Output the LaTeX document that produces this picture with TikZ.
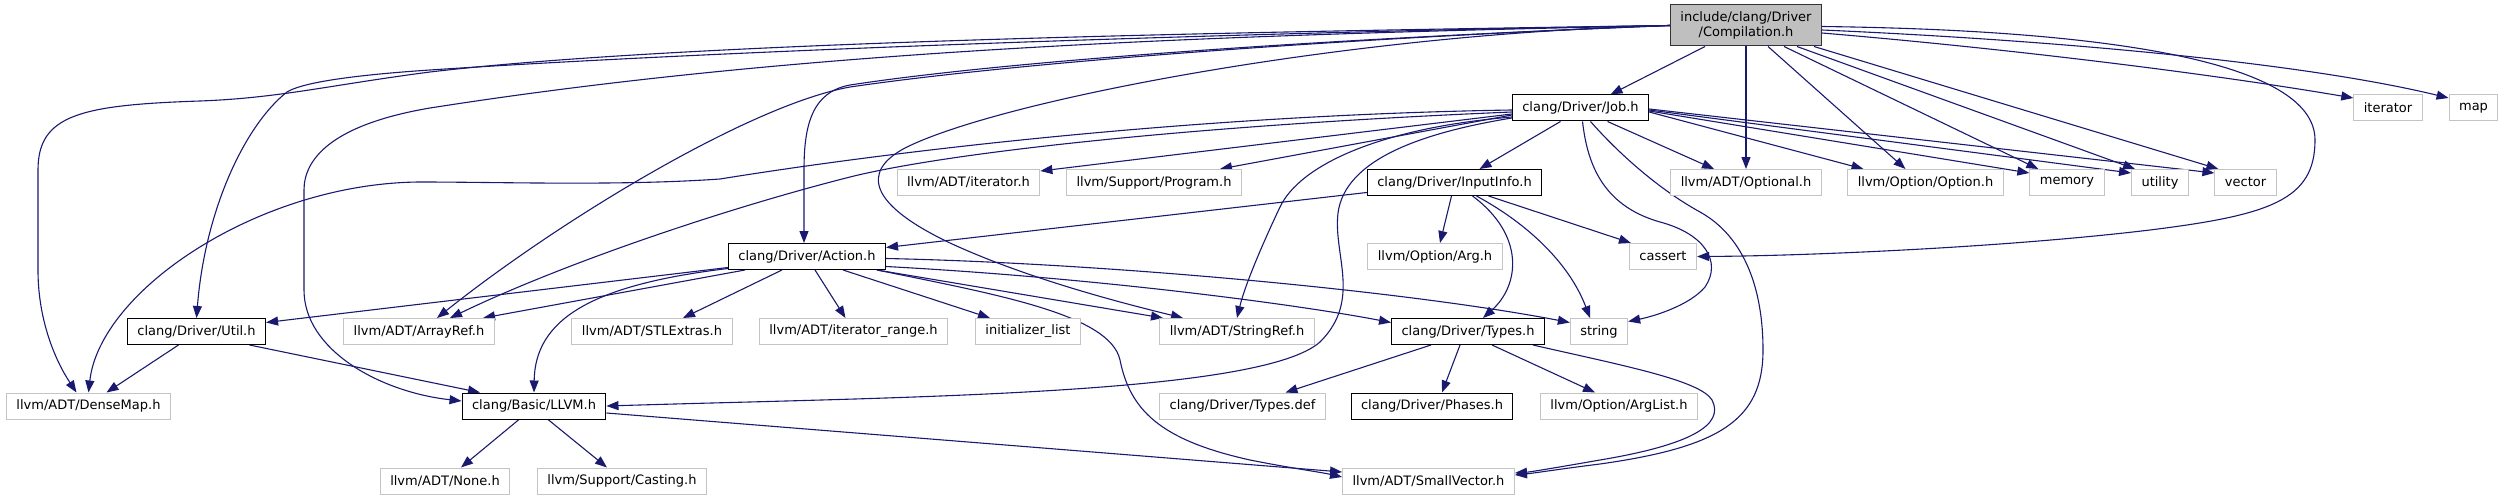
\documentclass[tikz,border=0pt]{standalone}
\usepackage{fontspec}
\setmainfont{DejaVu Sans}
\definecolor{edgeblue}{HTML}{191970}
\definecolor{rootgrey}{HTML}{BFBFBF}
\definecolor{extgrey}{HTML}{C4C4C4}
\usetikzlibrary{arrows.meta, backgrounds}

\begin{document}
\begin{tikzpicture}[
    x=1pt, y=-1pt,
    hfile/.style={rectangle, fill=white, line width=1pt,
                  inner xsep=10pt, inner ysep=0pt, minimum height=26pt,
                  font=\fontsize{13}{15}\selectfont},
    docfile/.style={hfile, draw=black},
    extfile/.style={hfile, draw=extgrey},
    rootfile/.style={hfile, draw=black!80, fill=rootgrey,
                     minimum height=41pt, align=center},
    arr/.style={-{Triangle[length=12pt, width=9pt]}, line width=1.1pt, edgeblue}
  ]
  \useasboundingbox (0,0) rectangle (2505,500);

  % rank 0 and 1
  \node[rootfile] (comp) at (1746,25.5) {include/clang/Driver\\/Compilation.h};
  \node[docfile] (job) at (1580.5,108) {clang/Driver/Job.h};
  \node[extfile] (iter) at (2388,108) {iterator};
  \node[extfile] (map) at (2473.5,108) {map};

  % rank 2
  \node[extfile] (iterh) at (968.5,182.5) {llvm/ADT/iterator.h};
  \node[extfile] (program) at (1154,182.5) {llvm/Support/Program.h};
  \node[docfile] (inputinfo) at (1454.5,182.5) {clang/Driver/InputInfo.h};
  \node[extfile] (optional) at (1746,182.5) {llvm/ADT/Optional.h};
  \node[extfile] (option) at (1925.5,182.5) {llvm/Option/Option.h};
  \node[extfile] (memory) at (2067,182.5) {memory};
  \node[extfile] (utility) at (2160,182.5) {utility};
  \node[extfile] (vector) at (2245.5,182.5) {vector};

  % rank 3
  \node[docfile] (action) at (807,256.5) {clang/Driver/Action.h};
  \node[extfile] (arg) at (1435,256.5) {llvm/Option/Arg.h};
  \node[extfile] (cassert) at (1663,256.5) {cassert};

  % rank 4
  \node[docfile] (util) at (196.5,331.5) {clang/Driver/Util.h};
  \node[extfile] (arrayref) at (419,331.5) {llvm/ADT/ArrayRef.h};
  \node[extfile] (stlextras) at (652,331.5) {llvm/ADT/STLExtras.h};
  \node[extfile] (iterrange) at (853.5,331.5) {llvm/ADT/iterator\_range.h};
  \node[extfile] (initlist) at (1028,331.5) {initializer\_list};
  \node[extfile] (stringref) at (1237,331.5) {llvm/ADT/StringRef.h};
  \node[docfile] (types) at (1468,331.5) {clang/Driver/Types.h};
  \node[extfile] (string) at (1599,331.5) {string};

  % rank 5 and 6
  \node[extfile] (densemap) at (88.5,406) {llvm/ADT/DenseMap.h};
  \node[docfile] (llvm) at (534,406) {clang/Basic/LLVM.h};
  \node[extfile] (typesdef) at (1242.5,406) {clang/Driver/Types.def};
  \node[docfile] (phases) at (1432,406) {clang/Driver/Phases.h};
  \node[extfile] (arglist) at (1619,406) {llvm/Option/ArgList.h};
  \node[extfile] (none) at (445,481) {llvm/ADT/None.h};
  \node[extfile] (casting) at (622,481) {llvm/Support/Casting.h};
  \node[extfile] (smallvec) at (1428.5,481) {llvm/ADT/SmallVector.h};

  \begin{scope}[on background layer]
  % Compilation.h
  \draw[arr] (comp.west) .. controls (1300,31) and (700,40) .. (430,72)
    .. controls (330,85) and (280,98) .. (200,101)
    .. controls (80,105) and (38,115) .. (38,170) -- (38,270)
    .. controls (38,320) and (55,360) .. ([xshift=-12pt]densemap.north);
  \draw[arr] (comp.west) .. controls (1200,33) and (700,52) .. (430,70)
    .. controls (340,76) and (300,84) .. (287,92)
    .. controls (245,125) and (205,210) .. (util.north);
  \draw[arr] (comp.west) .. controls (1200,35) and (800,50) .. (430,108)
    .. controls (330,125) and (304,160) .. (304,190) -- (304,290)
    .. controls (304,350) and (380,392) .. ([yshift=5pt]llvm.west);
  \draw[arr] (comp.west) .. controls (1300,40) and (1000,65) .. (850,87)
    .. controls (750,105) and (560,220) .. ([xshift=18pt]arrayref.north);
  \draw[arr] (comp.west) .. controls (1300,40) and (1000,62) .. (850,85)
    .. controls (812,92) and (804,125) .. (804,170) -- ([xshift=-3pt]action.north);
  \draw[arr] (comp.west) .. controls (1350,33) and (1000,100) .. (905,148)
    .. controls (860,172) and (870,205) .. (950,243)
    .. controls (1030,280) and (1130,305) .. ([xshift=-54pt]stringref.north);
  \draw[arr] ([xshift=-41pt]comp.south) -- ([xshift=30pt]job.north);
  \draw[arr] (comp.south) -- (optional.north);
  \draw[arr] ([xshift=22pt]comp.south) -- ([xshift=-20pt]option.north);
  \draw[arr] ([xshift=38pt]comp.south) -- ([xshift=9pt]memory.north west);
  \draw[arr] ([xshift=51pt]comp.south) -- ([xshift=4pt]utility.north west);
  \draw[arr] ([xshift=68pt]comp.south) -- ([xshift=4pt]vector.north west);
  \draw[arr] ([yshift=-7.5pt]comp.east) .. controls (2000,48) and (2200,72) .. ([yshift=10pt]iter.west);
  \draw[arr] ([yshift=-4.5pt]comp.east) .. controls (2050,40) and (2300,62) .. ([yshift=10pt]map.west);
  \draw[arr] ([yshift=-1pt]comp.east) .. controls (2100,30) and (2315,60) .. (2315,140)
    .. controls (2315,200) and (2270,215) .. (2150,230)
    .. controls (2000,248) and (1800,256) .. (cassert.east);

  % Job.h
  \draw[arr] ([yshift=-2pt]job.west) .. controls (1200,115) and (900,150) .. (720,179)
    .. controls (620,186) and (500,182) .. (420,182)
    .. controls (260,183) and (100,290) .. (densemap.north);
  \draw[arr] ([yshift=-4pt]job.west) .. controls (1200,125) and (950,152) .. (850,177)
    .. controls (720,210) and (560,265) .. ([xshift=31pt]arrayref.north);
  \draw[arr] ([yshift=-6pt]job.west) -- ([yshift=-2pt]iterh.north east);
  \draw[arr] ([yshift=-7pt]job.west) -- ([xshift=-22pt]program.north east);
  \draw[arr] ([yshift=-9pt]job.west) .. controls (1380,128) and (1300,165) .. (1280,207)
    .. controls (1262,245) and (1245,285) .. (stringref.north);
  \draw[arr] ([yshift=-10pt]job.west) .. controls (1420,133) and (1345,160) .. (1338,213)
    .. controls (1333,255) and (1362,300) .. (1320,342)
    .. controls (1260,395) and (900,397) .. (llvm.east);
  \draw[arr] ([xshift=-20pt]job.south) -- ([xshift=25pt]inputinfo.north);
  \draw[arr] ([xshift=27pt]job.south) -- ([xshift=-32pt]optional.north);
  \draw[arr] ([yshift=-4pt]job.east) -- ([xshift=-62pt]option.north);
  \draw[arr] ([yshift=-3pt]job.east) -- ([yshift=-4pt]memory.north west);
  \draw[arr] ([yshift=-2pt]job.east) -- ([yshift=-4pt]utility.north west);
  \draw[arr] ([yshift=-1pt]job.east) -- ([yshift=-4pt]vector.north west);
  \draw[arr] ([xshift=2pt]job.south) .. controls (1587,160) and (1600,205) .. (1660,222)
    .. controls (1705,234) and (1722,262) .. (1705,287)
    .. controls (1690,305) and (1655,316) .. ([yshift=10pt]string.east);
  \draw[arr] ([xshift=10pt]job.south) .. controls (1620,155) and (1660,190) .. (1700,212)
    .. controls (1745,237) and (1763,290) .. (1763,350)
    .. controls (1763,420) and (1720,447) .. (1600,464)
    .. controls (1560,469) and (1535,473) .. ([yshift=6pt]smallvec.east);

  % InputInfo.h
  \draw[arr] ([yshift=-10pt]inputinfo.west) -- ([yshift=9pt]action.east);
  \draw[arr] ([xshift=-3pt]inputinfo.south) -- ([xshift=5pt]arg.north);
  \draw[arr] ([xshift=34pt]inputinfo.south) -- ([xshift=2pt]cassert.north west);
  \draw[arr] ([xshift=18pt]inputinfo.south) .. controls (1525,235) and (1520,285) .. ([xshift=15pt]types.north);
  \draw[arr] ([xshift=22pt]inputinfo.south) .. controls (1530,225) and (1570,265) .. ([xshift=-9pt]string.north);

  % Action.h
  \draw[arr] ([yshift=-11pt]action.west) -- ([yshift=9pt]util.east);
  \draw[arr] ([xshift=-62pt]action.south) -- ([xshift=64pt]arrayref.north);
  \draw[arr] ([xshift=-25pt]action.south) -- ([xshift=31pt]stlextras.north);
  \draw[arr] ([xshift=8pt]action.south) -- ([xshift=-8pt]iterrange.north);
  \draw[arr] ([xshift=36pt]action.south) -- ([xshift=-38pt]initlist.north);
  \draw[arr] ([xshift=70pt]action.south) -- ([xshift=-74pt]stringref.north);
  \draw[arr] ([yshift=-10pt]action.east) .. controls (1100,278) and (1300,305) .. ([yshift=9pt]types.west);
  \draw[arr] ([yshift=-2pt]action.east) .. controls (1100,263) and (1400,290) .. ([yshift=9pt]string.west);
  \draw[arr] ([yshift=-12pt]action.west) .. controls (590,285) and (535,320) .. (llvm.north);
  \draw[arr] ([xshift=70pt]action.south) .. controls (1000,295) and (1110,315) .. (1120,360)
    .. controls (1130,410) and (1160,440) .. (1250,460)
    .. controls (1290,468) and (1320,472) .. ([yshift=4pt]smallvec.west);

  % Types.h
  \draw[arr] ([xshift=-37pt]types.south) -- ([xshift=43pt]typesdef.north);
  \draw[arr] ([xshift=-8pt]types.south) -- ([xshift=10pt]phases.north);
  \draw[arr] ([xshift=24pt]types.south) -- ([xshift=-24pt]arglist.north);
  \draw[arr] ([xshift=65pt]types.south) .. controls (1620,365) and (1700,380) .. (1712,400)
    .. controls (1725,425) and (1690,445) .. (1600,460)
    .. controls (1560,467) and (1530,472) .. ([yshift=8pt]smallvec.east);

  % Util.h and LLVM.h
  \draw[arr] ([xshift=-18pt]util.south) -- ([xshift=18pt]densemap.north);
  \draw[arr] ([xshift=53pt]util.south) -- ([xshift=-54pt]llvm.north);
  \draw[arr] ([xshift=-15pt]llvm.south) -- ([xshift=16pt]none.north);
  \draw[arr] ([xshift=14pt]llvm.south) -- ([xshift=-15pt]casting.north);
  \draw[arr] ([yshift=-7pt]llvm.east) -- ([yshift=9pt]smallvec.west);
  \end{scope}
\end{tikzpicture}
\end{document}
